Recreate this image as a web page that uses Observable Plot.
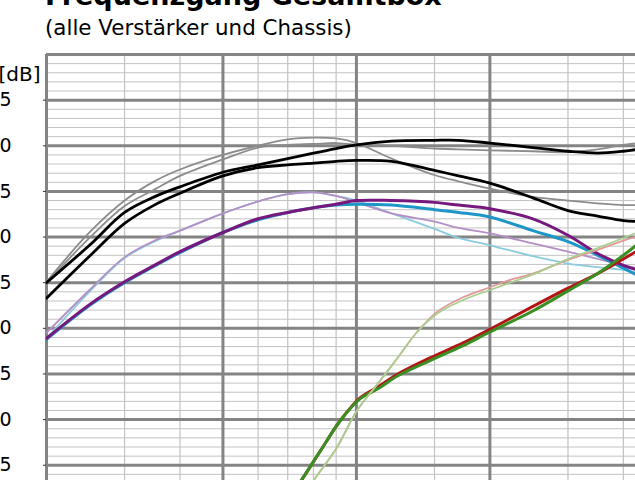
<!DOCTYPE html>
<html><head><meta charset="utf-8">
<script src="https://cdn.jsdelivr.net/npm/d3@7"></script>
<script src="https://cdn.jsdelivr.net/npm/@observablehq/plot@0.6"></script>
<style>
body{margin:0;background:#fff;overflow:hidden;width:635px;height:480px;position:relative;font-family:"DejaVu Sans",sans-serif;color:#000;}
#head{position:relative;height:45px;}
#title{position:absolute;left:45px;top:-18px;font-weight:bold;font-size:27px;line-height:27px;white-space:nowrap;}
#sub{position:absolute;left:45px;top:17px;font-size:21.4px;line-height:21px;white-space:nowrap;}
#chart svg{display:block;}
</style></head><body>
<div id="head"><div id="title">Frequenzgang Gesamtbox</div><div id="sub">(alle Verstärker und Chassis)</div></div>
<div id="chart"></div>
<script>
// Frequencies (Hz) for upper curves
const freqUpper = [20,25,30,35,40,50,60,70,80,90,100,120,150,170,200,250,300,350,400,430];
const grau1    = [75.1,80.5,84.0,86.1,87.4,89.0,90.0,90.7,90.9,90.8,90.3,88.6,86.8,86.1,85.3,84.4,84.0,83.7,83.5,83.5];
const grau2    = [75.0,79.9,83.4,85.2,86.7,88.5,89.8,90.1,90.2,90.3,90.1,90.0,89.7,89.6,89.5,89.4,89.3,89.6,90.1,90.3];
const schwarz1 = [75.0,79.1,82.7,84.4,85.5,87.1,87.9,88.6,89.2,89.7,90.1,90.5,90.6,90.6,90.3,89.8,89.4,89.2,89.4,89.6];
const schwarz2 = [73.3,77.9,81.5,83.5,84.8,86.7,87.6,87.9,88.1,88.3,88.4,88.3,87.3,86.7,85.9,84.3,82.9,82.3,81.8,81.7];
const lila     = [69.5,74.2,77.8,79.6,80.7,82.6,83.9,84.7,84.9,84.5,83.8,82.6,81.7,81.0,80.4,79.3,78.4,77.6,76.9,76.6];
const hellblau = [68.9,74.0,77.7,79.5,80.7,82.6,83.9,84.7,84.9,84.5,84.0,82.6,80.9,79.9,79.1,77.9,77.1,76.7,76.4,76.1];
const violett  = [68.9,72.6,75.1,76.9,78.4,80.5,82.0,82.7,83.2,83.6,84.0,84.0,83.8,83.5,83.1,82.0,80.2,78.2,76.9,76.4];
const tuerkis  = [68.8,72.5,75.0,76.8,78.3,80.5,81.9,82.7,83.2,83.5,83.6,83.5,83.0,82.7,82.2,80.7,79.5,78.0,76.6,75.8];

// Lower (rising) curves
const freqGruen = [70,75,83,92,102,112,124,147,174,200,250,300,350,400,430];
const gruen     = [51.3,53.3,56.6,59.9,62.3,63.4,64.8,66.5,68.1,69.6,71.9,74.1,76.0,78.0,79.2];
const rot       = [51.3,53.3,56.6,59.9,62.4,63.6,65.0,66.8,68.4,69.9,72.4,74.4,76.0,77.6,78.5];
const freqHellgruen = [75,80,90,100,112,124,137,152,174,200,222,250,300,350,400,430];
const hellgruen = [51.1,53.3,56.8,60.9,64.0,66.8,69.6,71.6,73.1,74.2,75.0,75.9,77.6,78.8,79.9,80.5];
const lachs     = [51.1,53.3,56.8,60.9,64.0,66.8,69.6,71.8,73.4,74.5,75.3,76.0,77.5,78.6,79.6,80.1];

// Axes / grid
const yMajor = [100,95,90,85,80,75,70,65,60,55];
const yTickValues = [95,90,85,80,75,70,65,60,55];
const yTickLabels = ["5","0","5","0","5","0","5","0","5"];
const xMajor = [20,50,100,200];
const xMinor = [30,40,60,70,80,90,150,300,400];
const yMinor = d3.range(54,100).filter(v => v % 5 !== 0);

const labelMap = new Map(yTickValues.map((v,i)=>[v, yTickLabels[i]]));
const toRows = (fs, vs) => fs.map((f,i)=>({f, db: vs[i]}));

const series = [
  {v: grau1, f: freqUpper, c:"#8c8c8c", w:1.8},
  {v: grau2, f: freqUpper, c:"#8c8c8c", w:1.8},
  {v: schwarz1, f: freqUpper, c:"#000000", w:2.8},
  {v: schwarz2, f: freqUpper, c:"#000000", w:2.8},
  {v: hellblau, f: freqUpper, c:"#8ccbdd", w:1.8},
  {v: lila, f: freqUpper, c:"#b48fc6", w:1.8},
  {v: tuerkis, f: freqUpper, c:"#1e96c8", w:3},
  {v: violett, f: freqUpper, c:"#77187f", w:3},
  {v: rot, f: freqGruen, c:"#b41414", w:3},
  {v: gruen, f: freqGruen, c:"#3a8f22", w:3},
  {v: lachs, f: freqHellgruen, c:"#e0999a", w:1.8},
  {v: hellgruen, f: freqHellgruen, c:"#a9cf8e", w:1.8}
];

const chart = Plot.plot({
  width: 635,
  height: 435,
  marginLeft: 46,
  marginRight: 0,
  marginTop: 9,
  marginBottom: 0,
  style: {fontFamily: "DejaVu Sans", fontSize: "18px", background: "#fff", overflow: "visible"},
  x: {type: "log", domain: [20, 426], axis: null},
  y: {domain: [53.33, 100], axis: null},
  marks: [
    Plot.ruleY(yMinor, {stroke: "#c3c3c3", strokeWidth: 1}),
    Plot.ruleX(xMinor, {stroke: "#c3c3c3", strokeWidth: 1.2}),
    Plot.ruleY(yMajor, {stroke: "#848484", strokeWidth: 3}),
    Plot.ruleX(xMajor, {stroke: "#848484", strokeWidth: 3}),
    Plot.axisY(yTickValues, {tickSize: 3, tickPadding: 32, tickFormat: d => labelMap.get(d), fontSize: 19, label: null, stroke: "#333", fill: "#000"}),
    ...series.map(s => Plot.line(toRows(s.f, s.v), {x: "f", y: "db", stroke: s.c, strokeWidth: s.w, curve: "catmull-rom", clip: true})),
    Plot.text(["[dB]"], {frameAnchor: "top-left", dx: -48, dy: 12, textAnchor: "start", fontSize: 20, fill: "#000"})
  ]
});
document.getElementById("chart").appendChild(chart);
</script>
</body></html>
